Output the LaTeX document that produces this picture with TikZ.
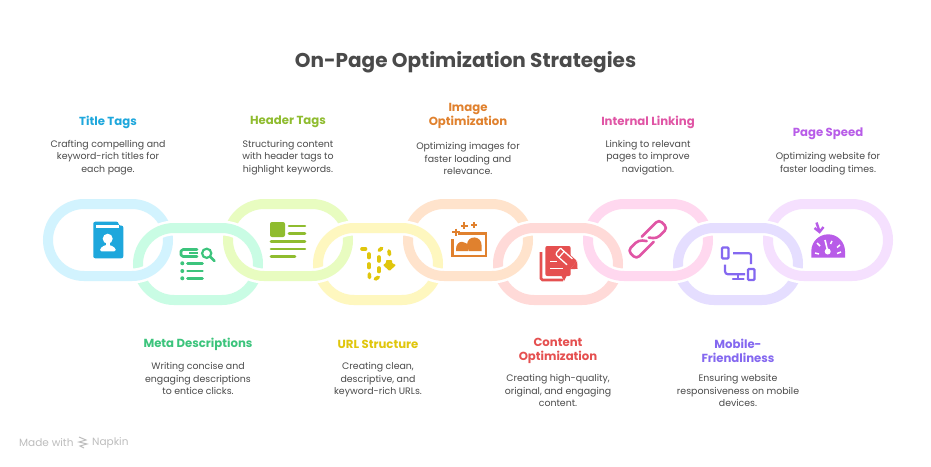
\documentclass[tikz,border=0pt]{standalone}
\usepackage{fontspec}
\setmainfont{Poppins}
\definecolor{inkgrey}{HTML}{4A4A4A}
\definecolor{footgrey}{HTML}{BDBDBD}
\definecolor{titleblue}{HTML}{1EA7DC}
\definecolor{metagreen}{HTML}{3CC47C}
\definecolor{headolive}{HTML}{8FBC2F}
\definecolor{urlyellow}{HTML}{E0C60C}
\definecolor{imgorange}{HTML}{E0812E}
\definecolor{contred}{HTML}{E55050}
\definecolor{linkpink}{HTML}{E055A5}
\definecolor{mobviolet}{HTML}{8468F0}
\definecolor{speedpurple}{HTML}{B85CE8}
\tikzset{
  heading/.style={align=center,inner sep=0pt,font=\fontsize{11.7}{14}\selectfont\bfseries},
  blurb/.style={align=center,inner sep=0pt,text=inkgrey,font=\fontsize{9.4}{12.4}\selectfont},
  casing/.style={draw=white,line width=15pt},
  band/.style={line width=10pt},
  iconline/.style={line width=2.6pt,line cap=round,line join=round},
  footnote/.style={anchor=west,inner sep=0pt,text=footgrey,font=\fontsize{10.5}{12}\selectfont},
}
\begin{document}
\begin{tikzpicture}[x=1pt,y=-1pt]
\useasboundingbox (0,0) rectangle (931,466);
\fill[white] (0,0) rectangle (931,466);
% upper links
\foreach \x/\c in {48/D2F3FE,228/E8FCC0,408/FFE3CC,588/FFD8EF,768/F5E0FE} {
  \definecolor{bandcol}{HTML}{\c}
  \draw[casing,rounded corners=36pt] (\x,204) rectangle ++(120,72);
  \draw[band,draw=bandcol,rounded corners=36pt] (\x,204) rectangle ++(120,72);
}
% lower links
\foreach \x/\c in {138/C9FCE4,318/FEF7BF,498/FFDAD8,678/E5DEFF} {
  \definecolor{bandcol}{HTML}{\c}
  \draw[casing,rounded corners=36pt] (\x,228) rectangle ++(120,72);
  \draw[band,draw=bandcol,rounded corners=36pt] (\x,228) rectangle ++(120,72);
}
% upper links again, over the lower ones at the bottom
\begin{scope}
\clip (0,252) rectangle (931,300);
\foreach \x/\c in {48/D2F3FE,228/E8FCC0,408/FFE3CC,588/FFD8EF,768/F5E0FE} {
  \definecolor{bandcol}{HTML}{\c}
  \draw[casing,rounded corners=36pt] (\x,204) rectangle ++(120,72);
  \draw[band,draw=bandcol,rounded corners=36pt] (\x,204) rectangle ++(120,72);
}
\end{scope}
% title
\node (maintitle) at (465.5,62.5) [inner sep=0pt,text=inkgrey,font=\fontsize{20}{24}\selectfont\bfseries] {On-Page Optimization Strategies};
% upper texts
\node (titletags) at (108,122) [heading,text=titleblue] {Title Tags};
\node (titledesc) at (108,175) [blurb,anchor=south] {Crafting compelling and\\keyword-rich titles for\\each page.};
\node (headertags) at (288,122) [heading,text=headolive] {Header Tags};
\node (headerdesc) at (288,175) [blurb,anchor=south] {Structuring content\\with header tags to\\highlight keywords.};
\node (imageopt) at (468,116) [heading,text=imgorange] {Image\\Optimization};
\node (imagedesc) at (468,175) [blurb,anchor=south] {Optimizing images for\\faster loading and\\relevance.};
\node (internal) at (648,122) [heading,text=linkpink] {Internal Linking};
\node (internaldesc) at (648,175) [blurb,anchor=south] {Linking to relevant\\pages to improve\\navigation.};
\node (pagespeed) at (828,134) [heading,text=speedpurple] {Page Speed};
\node (speeddesc) at (828,175) [blurb,anchor=south] {Optimizing website for\\faster loading times.};
% lower texts
\node (metadesc) at (198,344) [heading,text=metagreen] {Meta Descriptions};
\node (metablurb) at (198,362.5) [blurb,anchor=north] {Writing concise and\\engaging descriptions\\to entice clicks.};
\node (urlstruct) at (378,344) [heading,text=urlyellow] {URL Structure};
\node (urlblurb) at (378,362.5) [blurb,anchor=north] {Creating clean,\\descriptive, and\\keyword-rich URLs.};
\node (contentopt) at (558,350.5) [heading,text=contred] {Content\\Optimization};
\node (contentblurb) at (558,374.5) [blurb,anchor=north] {Creating high-quality,\\original, and engaging\\content.};
\node (mobile) at (738,350.5) [heading,text=mobviolet] {Mobile-\\Friendliness};
\node (mobileblurb) at (738,374.5) [blurb,anchor=north] {Ensuring website\\responsiveness on mobile\\devices.};
% footer
\node (madewith) at (19,443) [footnote] {Made with};
\node (napkin) at (92,443) [footnote] {Napkin};
\draw[footgrey,line width=1pt] (79,437)--(86,440)--(79,442)--(87,444)--(80,446)--(84,448);
% title tags icon
\fill[titleblue,rounded corners=2pt] (93.3,221.7) -- (118.5,221.7) -- (118.5,225.5) -- (123.3,225.5) -- (123.3,258.3) -- (93.3,258.3) -- cycle;
\fill[white] (96,225) rectangle (118.7,227.7);
\fill[white] (107.7,238.7) circle (5);
\fill[white] (105.5,241) rectangle (110,246);
\fill[white,rounded corners=1.5pt] (100,251.3) -- (100,248.5) -- (105,245) -- (110.5,245) -- (115.8,248.5) -- (115.8,251.3) -- cycle;
% meta icon
\draw[metagreen,iconline] (197,249.5) -- (183,249.5) -- (181,251) -- (181,255) -- (183,256.5) -- (197,256.5);
\draw[metagreen,line width=2pt] (189,253) -- (198,253);
\draw[metagreen,line width=2.2pt] (206.7,253.3) circle (4.6);
\draw[metagreen,iconline] (210.5,257) -- (214.5,261);
\foreach \y in {263.3,271,278.3} {
  \fill[metagreen] (182.3,\y) circle (2);
  \draw[metagreen,iconline] (187.5,\y) -- (202.5,\y);
}
% header icon
\fill[headolive,rounded corners=2pt] (270,222) rectangle (285,237);
\foreach \xa/\xb/\y in {289/305/226,289/305/233.7,271/305/241.3,271/305/249,271/295/256.3} {
  \draw[headolive,iconline] (\xa,\y) -- (\xb,\y);
}
% url icon
\foreach \xa/\ya/\xb/\yb in {362/249/365.5/249,369/254/369/257.5,369/264/369/267.5,369.3/274/369.5/277.5,381.7/248.3/379.2/250.3,389/251/389.5/254.5,379/257/379/261,379/268/379/271.5,378.3/277.3/375.3/279} {
  \draw[urlyellow,line width=3.6pt,line cap=round] (\xa,\ya) -- (\xb,\yb);
}
\fill[urlyellow,rounded corners=0.8pt] (386,260) -- (392,260) -- (392,263) -- (396,265) -- (389.5,271) -- (383,265) -- (386,263) -- cycle;
% image icon
\draw[imgorange,line width=2.4pt] (458,233.5) -- (486,233.5) -- (486,256) -- (452.5,256) -- (452.5,238.5);
\fill[imgorange] (456,251) -- (456,249) .. controls (456,239.5) and (468,239.5) .. (468.3,248) -- (468.3,251) -- cycle;
\fill[imgorange] (468.8,251) -- (467,245) .. controls (467,235) and (481.7,234.5) .. (481.7,246) -- (481.7,251) -- cycle;
\foreach \x/\y/\r in {456/232.3/3.7,464.3/225.7/3.5,474/225/3} {
  \draw[imgorange,line width=2pt] (\x-\r,\y) -- (\x+\r,\y);
  \draw[imgorange,line width=2pt] (\x,\y-\r) -- (\x,\y+\r);
}
% content icon
\draw[contred,line width=2.6pt,rounded corners=1.5pt] (541,252) -- (541,280) -- (563,280);
\fill[contred,rounded corners=2pt] (545.3,246) rectangle (570.7,276);
\fill[contred] (561,275) -- (567,275) -- (564,281) -- cycle;
\draw[white,line width=1.6pt] (550,261.5) -- (556.5,261.5);
\draw[white,line width=1.6pt] (550,268.5) -- (563,268.5);
\begin{scope}[shift={(566,258.5)},rotate=-42]
\fill[contred,rounded corners=1pt] (-12,-5.5) rectangle (10,5.5);
\fill[contred] (10,-5.5) -- (15.5,0) -- (10,5.5) -- cycle;
\draw[white,line width=1.3pt,rounded corners=2.5pt] (-11,-4) -- (-11,4) -- (5,4);
\draw[white,line width=1.3pt,rounded corners=2.5pt] (-11,-4) -- (5,-4);
\draw[white,line width=1.2pt] (-6,-4) -- (-6,4);
\end{scope}
% linking icon
\begin{scope}[shift={(647.7,239.3)},rotate=45]
\draw[linkpink,iconline,rounded corners=4pt] (2,-0.5) -- (7,6) -- (22,6) -- (22,-6) -- (-2.5,-6);
\draw[linkpink,iconline,rounded corners=4pt] (-2,0.5) -- (-7,-6) -- (-22,-6) -- (-22,6) -- (2.5,6);
\end{scope}
% mobile icon
\draw[mobviolet,line width=2.2pt,rounded corners=1pt] (722,247.5) rectangle (728.5,258.5);
\draw[mobviolet,line width=2.2pt,rounded corners=2pt] (733,253.3) -- (751,253.3) -- (751,264);
\draw[mobviolet,line width=2.2pt,rounded corners=3pt] (725,264.5) -- (725,274.3) -- (745,274.3);
\draw[mobviolet,line width=2.2pt] (738.3,274.3) -- (738.3,279.3);
\draw[mobviolet,line width=2.2pt,line cap=round] (733,279.3) -- (743.5,279.3);
\draw[mobviolet,line width=2.2pt,rounded corners=1pt] (748,269) rectangle (754.5,280);
% speed icon
\fill[speedpurple] (811.3,257.7) -- (811.3,251.2) .. controls (811.3,241.9) and (818.7,234.3) .. (828.2,234.3) .. controls (837.5,234.3) and (845,241.9) .. (845,251.2) -- (845,257.7) -- cycle;
\fill[white] (827.7,251.5) circle (3);
\draw[white,line width=1.6pt] (825,240) -- (827.7,251);
\foreach \xa/\ya/\xb/\yb in {817/243/820/246,832/241/830.5/244,840/245/837/247.5,815/253/819/254,841/252/837/253.5} {
  \draw[white,line width=1.5pt] (\xa,\ya) -- (\xb,\yb);
}
\draw[speedpurple,line width=2.4pt] (816.5,222.5) -- (819.3,231);
\draw[speedpurple,line width=2.4pt] (814.5,228) -- (819.5,232) -- (823.5,227);
\end{tikzpicture}
\end{document}
